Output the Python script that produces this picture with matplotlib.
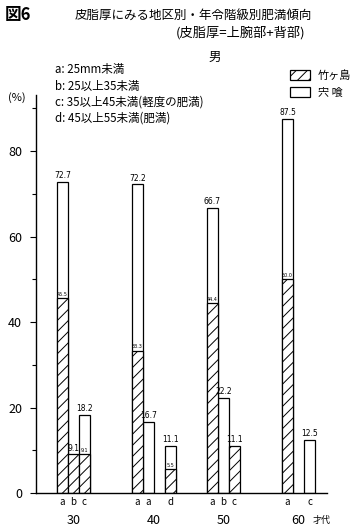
import numpy as np
import matplotlib.pyplot as plt

plt.rcParams['font.family'] = ['Noto Sans CJK JP', 'DejaVu Sans']
plt.rcParams['hatch.linewidth'] = 0.7

# age groups and the sub-class letter under each bar slot
groups = ['30', '40', '50', '60']
slots = [[0, 1, 2], [0, 1, 3], [0, 1, 2], [0, 2]]
letters = [['a', 'b', 'c'], ['a', 'a', 'd'], ['a', 'b', 'c'], ['a', 'c']]

# 宍喰 (white bars) and 竹ヶ島 (hatched bars), %
shishikui = [[72.7, 0, 18.2], [72.2, 16.7, 11.1], [66.7, 22.2, 0], [87.5, 12.5]]
takegashima = [[45.5, 9.1, 9.1], [33.3, 0, 5.5], [44.4, 0, 11.1], [50.0, 0]]

gap = 75 / 11  # distance between group starts, in bar widths

fig = plt.figure(figsize=(3.53, 5.29), dpi=100)
ax = fig.add_axes([36 / 353, 36 / 529, 291 / 353, 398 / 529])

xs, labs, ws, hs = [], [], [], []
for g in range(len(groups)):
    for s, l, w, h in zip(slots[g], letters[g], shishikui[g], takegashima[g]):
        xs.append(g * gap + s)
        labs.append(l)
        ws.append(w)
        hs.append(h)
xs = np.array(xs)
ws = np.array(ws)
hs = np.array(hs)

wb = ax.bar(xs[ws > 0], ws[ws > 0], width=1, align='edge', color='white',
            edgecolor='black', linewidth=0.9, label='宍 喰')
hb = ax.bar(xs[hs > 0], hs[hs > 0], width=1, align='edge', color='white',
            edgecolor='black', linewidth=0.9, hatch='///', label='竹ヶ島')

for x, w, h in zip(xs, ws, hs):
    if w > 0:
        ax.text(x + 0.5, w + 0.4, f'{w:.1f}', ha='center', va='bottom',
                fontsize=5.5, family='DejaVu Sans')
    if h > 0:
        small = w > h
        ax.text(x + 0.5, h + 0.3, f'{h:.1f}', ha='center', va='bottom',
                fontsize=3.5 if small else 5.5, family='DejaVu Sans')

ax.set_xlim(-21 / 11, 270 / 11)
ax.set_ylim(0, 93.1)
ax.set_yticks([0, 20, 40, 60, 80])
ax.set_yticks([10, 30, 50, 70, 90], minor=True)
ax.tick_params(axis='y', labelsize=9, length=4, width=0.8, pad=6)
ax.tick_params(axis='y', which='minor', length=3, width=0.8)
ax.set_xticks(xs + 0.5)
ax.set_xticklabels(labs, fontsize=7)
ax.tick_params(axis='x', length=0, pad=3)
for sp in ['top', 'right']:
    ax.spines[sp].set_visible(False)
ax.spines['left'].set_linewidth(1.0)
ax.spines['bottom'].set_linewidth(1.0)

for g, name in enumerate(groups):
    c = g * gap + (min(slots[g]) + max(slots[g]) + 1) / 2
    ax.text(c, -0.07, name, transform=ax.get_xaxis_transform(),
            ha='center', va='center', fontsize=9)
ax.text(265 / 11, -0.07, '才代', transform=ax.get_xaxis_transform(),
        ha='center', va='center', fontsize=6.5)

ax.legend(handles=[hb, wb], loc='upper left', bbox_to_anchor=(280 / 353, 1 - 60 / 529),
          bbox_transform=fig.transFigure, frameon=False, fontsize=8,
          handlelength=1.8, handleheight=1.0, labelspacing=0.6, handletextpad=0.7)

fig.text(5 / 353, 1 - 15 / 529, '図6', fontsize=12, fontweight='bold', va='center')
fig.text(193 / 353, 1 - 16 / 529, '皮脂厚にみる地区別・年令階級別肥満傾向',
         fontsize=9, ha='center', va='center')
fig.text(241 / 353, 1 - 33 / 529, '(皮脂厚=上腕部+背部)',
         fontsize=9.5, ha='center', va='center')
fig.text(215 / 353, 1 - 57 / 529, '男', fontsize=9, ha='center', va='center')
fig.text(8 / 353, 1 - 98 / 529, '(%)', fontsize=8, va='center')

notes = ['a: 25mm未満', 'b: 25以上35未満', 'c: 35以上45未満(軽度の肥満)', 'd: 45以上55未満(肥満)']
for i, t in enumerate(notes):
    fig.text(55 / 353, 1 - (70 + i * 16) / 529, t, fontsize=8.3, va='center')

plt.savefig('out.png', dpi=100)
